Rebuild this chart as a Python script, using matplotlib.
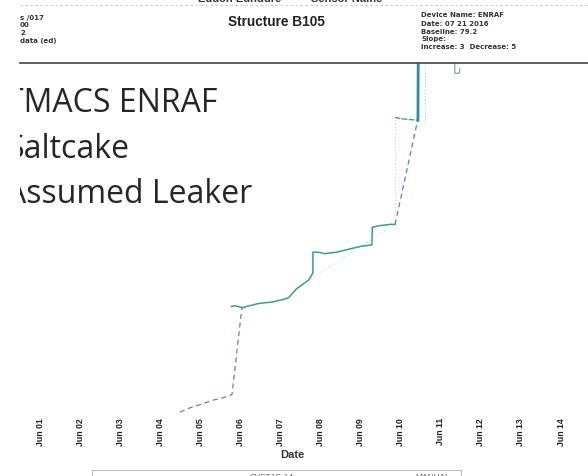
import numpy as np
import matplotlib
matplotlib.use("Agg")
import matplotlib.pyplot as plt
import matplotlib.dates as mdates

# level readings (day of June 2016, level)
step_day = [5.78, 5.84, 5.95, 6.05, 6.15, 6.3, 6.45, 6.6, 6.8, 6.95, 7.1, 7.2, 7.3,
            7.4, 7.5, 7.6, 7.7, 7.75, 7.81, 7.81, 7.95, 8.1, 8.25, 8.4, 8.55, 8.7,
            8.85, 9.0, 9.15, 9.28, 9.29, 9.45, 9.6, 9.75, 9.86]
step_val = [78.74, 78.745, 78.74, 78.73, 78.74, 78.75, 78.76, 78.765, 78.77, 78.78,
            78.79, 78.80, 78.83, 78.86, 78.88, 78.90, 78.92, 78.94, 78.97, 79.11,
            79.11, 79.10, 79.105, 79.11, 79.12, 79.13, 79.14, 79.15, 79.155, 79.16,
            79.28, 79.29, 79.295, 79.30, 79.30]
upper_day = [9.86, 10.0, 10.2, 10.43, 10.44]
upper_val = [80.03, 80.02, 80.015, 80.01, 80.7]

# dashed trend pieces
lead_day = [4.49, 4.75, 4.99, 5.3, 5.6, 5.79, 6.04]
lead_val = [78.02, 78.05, 78.07, 78.10, 78.12, 78.14, 78.74]
tail_day = [9.86, 10.43, 10.46]
tail_val = [79.30, 80.02, 80.7]

# faint dotted pieces
faint_day = [7.49, 9.86]
faint_val = [78.88, 79.30]
spike_day = [10.61, 10.61]
spike_val = [80.7, 79.99]
hook_day = [11.35, 11.35, 11.46, 11.48]
hook_val = [80.7, 80.33, 80.33, 80.36]

tick_days = list(range(1, 15))

base = np.datetime64("2016-06-01T00:00")


def to_date(days):
    mins = np.round((np.asarray(days) - 1) * 24 * 60).astype("timedelta64[m]")
    return base + mins


W, H = 588, 476
fig = plt.figure(figsize=(W / 100, H / 100), dpi=100)
fx = lambda x: x / W
fy = lambda y: 1 - y / H

ax = fig.add_axes([fx(20), fy(415), fx(588) - fx(20), fy(63) - fy(415)])
ax.set_xlim(to_date(0.501), to_date(14.673))
ax.set_ylim(78.0, 80.4)

ax.plot(to_date(faint_day), faint_val, color="#b9e3e0", lw=0.8, ls=(0, (1, 2)))
ax.plot(to_date([step_day[-1], upper_day[0]]), [step_val[-1], upper_val[0]],
        color="#a9d9d6", lw=0.8, ls=(0, (1, 2)))
ax.plot(to_date(spike_day), spike_val, color="#9fd3d6", lw=0.8, ls=(0, (1, 2)))
ax.plot(to_date(lead_day), lead_val, color="#7373d6", lw=0.9, ls=(0, (4, 3)))
ax.plot(to_date(tail_day), tail_val, color="#7373d6", lw=0.9, ls=(0, (4, 3)))
ax.plot(to_date(step_day), step_val, color="#3b9c94", lw=1.1)
ax.plot(to_date(upper_day[:-1]), upper_val[:-1], color="#4a9a92", lw=1.0, ls=(0, (4, 1)))
ax.plot(to_date(upper_day[-2:]), upper_val[-2:], color="#2a8ea6", lw=2.0)
ax.plot(to_date(hook_day), hook_val, color="#6a9ea0", lw=0.8)

ax.xaxis.set_major_formatter(mdates.DateFormatter("%b %d"))
ax.set_xticks(to_date(tick_days))
ax.tick_params(axis="x", length=0, pad=2, labelsize=6.3, rotation=90, labelcolor="#222222")
for lab in ax.get_xticklabels():
    lab.set_fontweight("bold")
    lab.set_fontfamily("Liberation Sans")
ax.set_yticks([])
for s in ["left", "right", "bottom"]:
    ax.spines[s].set_visible(False)
ax.spines["top"].set_color("#444444")
ax.spines["top"].set_linewidth(1.2)

# overlay slide text, cut at the left edge
for txt, yb in [("TMACS ENRAF", 112), ("Saltcake", 158), ("Assumed Leaker", 203)]:
    ax.text(fx(6), fy(yb), txt, transform=fig.transFigure, family="Open Sans",
            fontsize=23, color="#262626", va="baseline", ha="left", clip_on=True)

# header
fig.text(fx(276), fy(22), "Structure B105", family="Liberation Sans",
         fontweight="bold", fontsize=9.8, ha="center", va="center", color="#222222")
for txt, y in [("s /017", 18), ("00", 25), ("2", 33), ("data (ed)", 41)]:
    fig.text(fx(20), fy(y), txt, family="Liberation Sans Narrow", fontweight="bold",
             fontsize=5.0, va="center", ha="left", color="#333333")
info = ["Device Name: ENRAF", "Date: 07 21 2016", "Baseline: 79.2", "Slope:",
        "Increase: 3  Decrease: 5"]
for txt, y in zip(info, [15, 23.5, 31.5, 39, 47]):
    fig.text(fx(421), fy(y), txt, family="Liberation Sans Narrow", fontweight="bold",
             fontsize=5.0, va="center", ha="left", color="#333333")
fig.text(fx(198), fy(-1), "Eddon Edndure", family="Liberation Sans", fontweight="bold",
         fontsize=8, va="center", ha="left", color="#333333")
fig.text(fx(311), fy(-1), "Sensor Name", family="Liberation Sans", fontweight="bold",
         fontsize=8, va="center", ha="left", color="#333333")
fig.add_artist(plt.Line2D([fx(20), fx(588)], [fy(5), fy(5)], transform=fig.transFigure,
                          color="#b8c4d8", lw=0.6, ls=(0, (3, 3))))

fig.text(fx(292), fy(455), "Date", family="Liberation Sans", fontweight="bold",
         fontsize=8, ha="center", va="center", color="#333333")

# bottom box (cut)
fig.add_artist(plt.Line2D([fx(92), fx(92), fx(461), fx(461)],
                          [fy(476), fy(470), fy(470), fy(476)],
                          transform=fig.transFigure, color="#b8b8c4", lw=0.7))
fig.text(fx(250), fy(474), "SVST1S-14", family="Liberation Sans", fontsize=6,
         va="top", color="#666666")
fig.text(fx(415), fy(474), "MANUAL", family="Liberation Sans", fontsize=6,
         va="top", color="#666666")

fig.savefig("out.png", dpi=100)
